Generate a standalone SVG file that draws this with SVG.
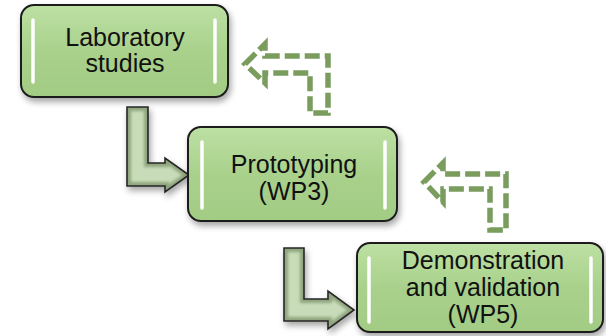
<svg xmlns="http://www.w3.org/2000/svg" width="606" height="336" viewBox="0 0 606 336">
  <defs>
    <linearGradient id="boxFill" x1="0" y1="0" x2="0" y2="1">
      <stop offset="0" stop-color="#bde0a3"/>
      <stop offset="0.5" stop-color="#a9d18c"/>
      <stop offset="1" stop-color="#a2cb84"/>
    </linearGradient>
    <filter id="shadow" x="-10%" y="-10%" width="130%" height="140%">
      <feDropShadow dx="2" dy="4" stdDeviation="3" flood-color="#000" flood-opacity="0.35"/>
    </filter>
    <filter id="soft" x="-20%" y="-20%" width="140%" height="140%">
      <feGaussianBlur stdDeviation="1.6"/>
    </filter>
    <filter id="shineBlur" filterUnits="userSpaceOnUse" x="0" y="0" width="606" height="336">
      <feGaussianBlur stdDeviation="0.7"/>
    </filter>
    <path id="stepA" d="M127,107 L148,107 L148,163 L165,163 L165,158 L189,175 L165,192 L165,186 L127,186 Z"/>
    <path id="stepB" d="M284,248 L304,248 L304,299 L328,299 L328,291 L354,310 L328,329 L328,321 L284,321 Z"/>
    <clipPath id="clipA"><use href="#stepA"/></clipPath>
    <clipPath id="clipB"><use href="#stepB"/></clipPath>
  </defs>
  <style>
    .box { fill: url(#boxFill); stroke: #1c1c1c; stroke-width: 2; }
    .shine { stroke: #ffffff; stroke-width: 3.5; stroke-linecap: round; }
    .label { font-family: "Liberation Sans", Arial, sans-serif; font-size: 25px; fill: #111; text-anchor: middle; }
    .step { fill: #c9dcb9; stroke: none; }
    .bevel { fill: none; stroke: #8ea57e; stroke-width: 8; }
    .edge { fill: none; stroke: #262626; stroke-width: 1.6; stroke-linejoin: miter; }
    .loop { fill: none; stroke: #7a9d5e; stroke-width: 5.5; stroke-dasharray: 15 5; stroke-linejoin: miter; }
  </style>

  <!-- connectors: solid step arrows going down, dashed feedback arrows going back -->
  <g id="connectors">
    <g filter="url(#shadow)">
      <use href="#stepA" class="step"/>
      <use href="#stepA" class="bevel" clip-path="url(#clipA)" filter="url(#soft)"/>
      <use href="#stepA" class="edge"/>
    </g>
    <g filter="url(#shadow)">
      <use href="#stepB" class="step"/>
      <use href="#stepB" class="bevel" clip-path="url(#clipB)" filter="url(#soft)"/>
      <use href="#stepB" class="edge"/>
    </g>
    <path class="loop" d="M245,64 L265,44 L265,56 L328,56 L328,113 L310,113 L310,73 L265,73 L265,83 Z"/>
    <path class="loop" d="M424,182 L443,163 L443,174 L506,174 L506,230 L490,230 L490,189 L443,189 L443,202 Z"/>
  </g>

  <g id="lab">
    <rect class="box" filter="url(#shadow)" x="21" y="5" width="207" height="92" rx="13"/>
    <line class="shine" filter="url(#shineBlur)" x1="33" y1="20" x2="33" y2="82"/>
    <line class="shine" filter="url(#shineBlur)" x1="215" y1="20" x2="215" y2="82"/>
    <text class="label" x="125" y="46">Laboratory</text>
    <text class="label" x="125" y="72">studies</text>
  </g>

  <g id="proto">
    <rect class="box" filter="url(#shadow)" x="188" y="127" width="209" height="94" rx="13"/>
    <line class="shine" filter="url(#shineBlur)" x1="202" y1="142" x2="202" y2="208"/>
    <line class="shine" filter="url(#shineBlur)" x1="385" y1="142" x2="385" y2="208"/>
    <text class="label" x="294" y="173">Prototyping</text>
    <text class="label" x="294" y="200">(WP3)</text>
  </g>

  <g id="demo">
    <rect class="box" filter="url(#shadow)" x="357" y="243" width="246" height="89" rx="13"/>
    <line class="shine" filter="url(#shineBlur)" x1="369" y1="258" x2="369" y2="322"/>
    <line class="shine" filter="url(#shineBlur)" x1="591" y1="258" x2="591" y2="322"/>
    <text class="label" x="483" y="269">Demonstration</text>
    <text class="label" x="483" y="296">and validation</text>
    <text class="label" x="483" y="323">(WP5)</text>
  </g>
</svg>
